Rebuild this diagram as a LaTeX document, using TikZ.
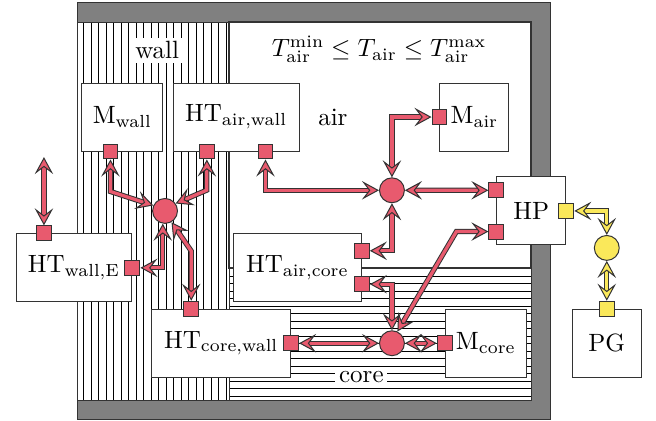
\documentclass[tikz,border=0pt]{standalone}
\usepackage{amsmath}
\usepackage{amssymb}
\usetikzlibrary{arrows.meta,positioning,calc,patterns}
\definecolor{portred}{RGB}{232,90,110}
\definecolor{portyellow}{RGB}{250,232,90}

\begin{document}
\begin{tikzpicture}[
    block/.style={draw=black!80, fill=white, minimum height=0.956cm, inner sep=1pt},
    port/.style={draw=black!80, fill=portred, minimum size=0.21cm, inner sep=0pt},
    yport/.style={port, fill=portyellow},
    hub/.style={circle, draw=black!80, fill=portred, minimum size=0.35cm, inner sep=0pt},
    yhub/.style={hub, fill=portyellow},
    flow/.style={draw=black!80, line width=0.4pt, double=portred, double distance=1.3pt, >={Stealth[length=2.4mm,width=2.6mm,inset=1mm,fill=portred,line width=0.4pt]}, <->},
    yflow/.style={flow, double=portyellow, >={Stealth[length=2.4mm,width=2.6mm,inset=1mm,fill=portyellow,line width=0.4pt]}},
    tag/.style={fill=white, inner sep=1.5pt}
]
\useasboundingbox (0,0) rectangle (9.222,5.905);
\fill[gray, draw=black!80] (1.083,0.014) rectangle (7.732,5.863);
\fill[white] (1.083,0.281) rectangle (7.465,5.595);
\draw[black!80, pattern=vertical lines] (1.083,0.281) rectangle (3.220,5.595);
\draw[black!80, pattern=horizontal lines] (3.220,0.281) rectangle (7.465,2.137);
\draw[black!80, line width=0.6pt] (3.220,2.137) rectangle (7.465,5.595);
\node[tag] (walllbl) at (2.21,5.20) {wall};
\node (limits) at (5.33,5.21) {$T_{\text{air}}^{\text{min}} \leq T_{\text{air}} \leq T_{\text{air}}^{\text{max}}$};
\node (airlbl) at (4.68,4.26) {air};
\node[tag] (corelbl) at (5.08,0.60) {core};
\node[block, minimum width=1.14cm] (mwall) at (1.72,4.26) {M$_{\text{wall}}$};
\node[block, minimum width=1.77cm] (htaw) at (3.32,4.26) {HT$_{\text{air,wall}}$};
\node[block, minimum width=0.97cm] (mair) at (6.67,4.26) {M$_{\text{air}}$};
\node[block, minimum width=0.97cm] (hp) at (7.47,2.94) {HP};
\node[block, minimum width=0.97cm] (pg) at (8.53,1.08) {PG};
\node[block, minimum width=1.63cm] (htwe) at (1.04,2.14) {HT$_{\text{wall,E}}$};
\node[block, minimum width=1.80cm] (htac) at (4.18,2.14) {HT$_{\text{air,core}}$};
\node[block, minimum width=1.95cm] (htcw) at (3.11,1.08) {HT$_{\text{core,wall}}$};
\node[block, minimum width=1.14cm] (mcore) at (6.83,1.08) {M$_{\text{core}}$};
\node[port] (sqmwall) at ([xshift=0.41cm]mwall.south west) {};
\node[port] (sqhtawl) at ([xshift=0.48cm]htaw.south west) {};
\node[port] (sqhtawr) at ([xshift=-0.48cm]htaw.south east) {};
\node[port] (sqmair) at (mair.west) {};
\node[port] (sqhpa) at ([yshift=0.29cm]hp.west) {};
\node[port] (sqhpb) at ([yshift=-0.29cm]hp.west) {};
\node[yport] (sqhpy) at (hp.east) {};
\node[yport] (sqpg) at (pg.north) {};
\node[port] (sqhtwet) at ([xshift=0.40cm]htwe.north west) {};
\node[port] (sqhtwer) at (htwe.east) {};
\node[port] (sqhtcwt) at ([xshift=0.56cm]htcw.north west) {};
\node[port] (sqhtcwr) at (htcw.east) {};
\node[port] (sqhtaca) at ([yshift=0.24cm]htac.east) {};
\node[port] (sqhtacb) at ([yshift=-0.23cm]htac.east) {};
\node[port] (sqmcore) at (mcore.west) {};
\node[hub] (wallhub) at (2.32,2.94) {};
\node[hub] (airhub) at (5.51,3.23) {};
\node[hub] (corehub) at (5.51,1.08) {};
\node[yhub] (pghub) at (8.53,2.42) {};
\coordinate (ambient) at ([yshift=0.96cm]sqhtwet.north);
\draw[flow] (sqmwall.south) -- ++(0,-0.45) -- (wallhub.155);
\draw[flow] (sqhtawl.south) -- ++(0,-0.43) -- (wallhub.35);
\draw[flow] (sqhtawr.south) |- (airhub.west);
\draw[flow] (airhub.north) |- (sqmair.west);
\draw[flow] (airhub.east) -- (sqhpa.west);
\draw[flow] (airhub.south) |- (sqhtaca.east);
\draw[flow] (sqhtacb.east) -| (corehub.north);
\draw[flow] (corehub.65) -- ([xshift=-0.45cm]sqhpb.west) -- (sqhpb.west);
\draw[flow] (sqhtcwr.east) -- (corehub.west);
\draw[flow] (corehub.east) -- (sqmcore.west);
\draw[flow] (wallhub.-100) |- (sqhtwer.east);
\draw[flow] (wallhub.-60) -- ([yshift=0.70cm]sqhtcwt.north) -- (sqhtcwt.north);
\draw[flow] (ambient) -- (sqhtwet.north);
\draw[yflow] (sqhpy.east) -| (pghub.north);
\draw[yflow] (pghub.south) -- (sqpg.north);
\end{tikzpicture}
\end{document}
